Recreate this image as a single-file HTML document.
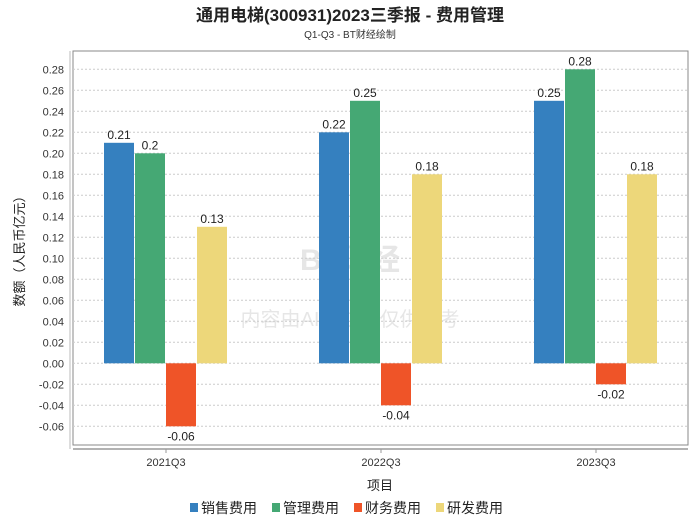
<!DOCTYPE html>
<html><head><meta charset="utf-8"><style>
body{margin:0;background:#fff;font-family:"Liberation Sans","Noto Sans CJK SC",sans-serif}
</style></head><body>
<svg id="c" width="700" height="524" xmlns="http://www.w3.org/2000/svg" font-family="Liberation Sans, Noto Sans CJK SC, sans-serif">
<text x="350" y="21" text-anchor="middle" font-size="17" font-weight="bold" fill="#222">通用电梯(300931)2023三季报 - 费用管理</text>
<text x="350" y="38" text-anchor="middle" font-size="10" fill="#333">Q1-Q3 - BT财经绘制</text>
<rect x="73" y="51" width="615" height="394" fill="none" stroke="#888"/>
<line x1="70" y1="51" x2="70" y2="449" stroke="#bbb"/>
<line x1="73" y1="449" x2="688" y2="449" stroke="#999" stroke-width="1.5"/>
<text transform="translate(24,248) rotate(-90)" text-anchor="middle" font-size="13" fill="#222">数额（人民币亿元）</text>
<text x="380" y="490" text-anchor="middle" font-size="13" fill="#222">项目</text>
<g opacity="0.18">
<text x="350" y="270" text-anchor="middle" font-size="30" font-weight="bold" fill="#777">BT财经</text>
<text x="350" y="326" text-anchor="middle" font-size="20" fill="#777">内容由AI生成，仅供参考</text>
</g>
<g id="grid"></g><g id="bars"></g><g id="legend"></g>
</svg>
<script>
const categories=["2021Q3","2022Q3","2023Q3"];
const seriesNames=["销售费用","管理费用","财务费用","研发费用"];
const colors=["#3580bf","#45a874","#ef5428","#edd77a"];
const sales=[0.21,0.22,0.25];
const admin=[0.2,0.25,0.28];
const finance=[-0.06,-0.04,-0.02];
const rnd=[0.13,0.18,0.18];
const yTicks=[-0.06,-0.04,-0.02,0,0.02,0.04,0.06,0.08,0.10,0.12,0.14,0.16,0.18,0.20,0.22,0.24,0.26,0.28];
const NS="http://www.w3.org/2000/svg";
const y=v=>363.3-v*1050;
const xc=i=>166+i*215;
const grid=document.getElementById('grid'),bars=document.getElementById('bars'),leg=document.getElementById('legend');
function mk(tag,at,p){const e=document.createElementNS(NS,tag);for(const k in at)e.setAttribute(k,at[k]);p.appendChild(e);return e;}
yTicks.forEach(t=>{
 const l=mk('line',{x1:73,x2:688,y1:y(t),y2:y(t),stroke:'#ccc','stroke-dasharray':'2,2'},grid);
 
 
 const tx=mk('text',{x:64,y:y(t)+4,'text-anchor':'end','font-size':11,fill:'#333'},grid);
 tx.textContent=t.toFixed(2);
 
 
});
const data=[sales,admin,finance,rnd];
categories.forEach((c,i)=>{
 const tk=mk('line',{x1:xc(i),x2:xc(i),y1:449,y2:453,stroke:'#999'},grid);
 
 
 const t=mk('text',{x:xc(i),y:466,'text-anchor':'middle','font-size':11,fill:'#333'},grid);
 t.textContent=c;
 
 
 data.forEach((s,j)=>{
  const v=s[i],x0=xc(i)-62+j*31,top=Math.min(y(v),y(0)),h=Math.abs(y(v)-y(0));
  const r=mk('rect',{x:x0,y:top,width:30,height:h,fill:colors[j]},bars);
  
  
  const lb=mk('text',{x:x0+15,y:v>=0?y(v)-4:y(v)+14,'text-anchor':'middle','font-size':12,fill:'#222'},bars);
  lb.textContent=String(v);
  
  
 });
});
let lx=190;
seriesNames.forEach((n,j)=>{
 const g=mk('g',{},leg);
 
 
 mk('rect',{x:lx,y:503,width:8,height:9,fill:colors[j]},g);
 const t=mk('text',{x:lx+11,y:513,'font-size':14,fill:'#222'},g);
 t.textContent=n;
 lx+=82;
});
</script>
</body></html>
